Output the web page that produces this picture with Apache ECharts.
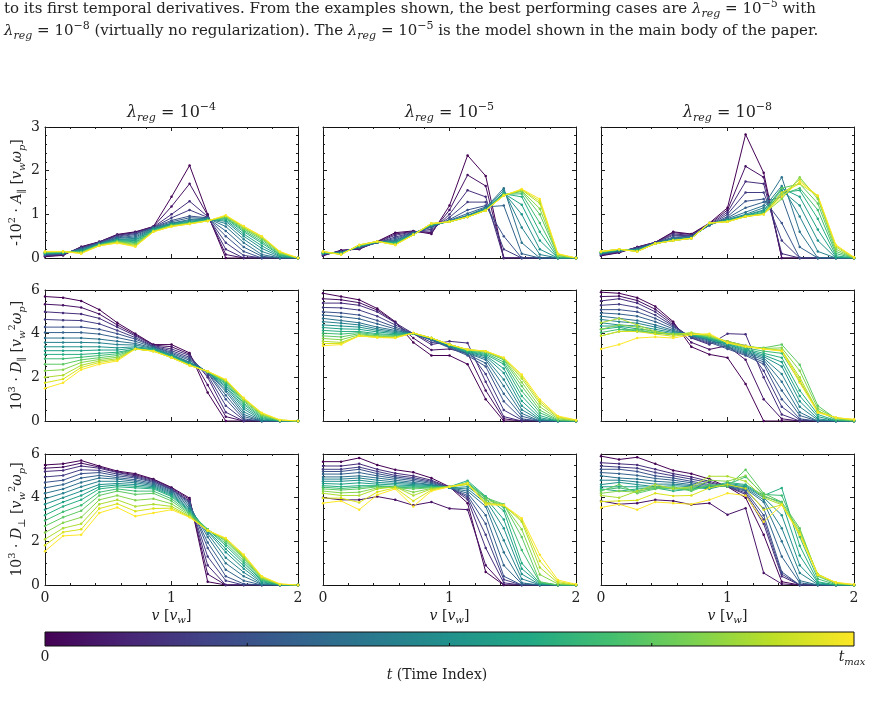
<!DOCTYPE html>
<html lang="en">
<head>
<meta charset="UTF-8" />
<title>Regularization comparison</title>
<script src="https://cdn.jsdelivr.net/npm/echarts@6/dist/echarts.min.js"></script>
<style>
* { margin: 0; padding: 0; }
html, body { width: 874px; height: 717px; background: #fff; }
</style>
</head>
<body>
<div id="main" style="width:874px;height:717px;"></div>
<script>
// speed grid in units of v_w (same for every panel)
var vGrid = [0, 0.143, 0.286, 0.429, 0.571, 0.714, 0.857, 1.0, 1.143, 1.286, 1.429, 1.571, 1.714, 1.857, 2.0];
// snapshots drawn, as fraction of t_max (one row per snapshot in each panel array)
var timeSteps = [0, 0.0625, 0.125, 0.1875, 0.25, 0.3125, 0.375, 0.4375, 0.5,
                 0.5625, 0.625, 0.6875, 0.75, 0.8125, 0.875, 0.9375, 1];
var lambdaExp = ['−4', '−5', '−8'];

// row 1: -10^2 * A_par
var aPar_4 = [
  [0.03, 0.06, 0.26, 0.37, 0.54, 0.60, 0.72, 1.40, 2.12, 1.00, 0.00, 0.00, 0.00, 0.00, 0.00],
  [0.04, 0.07, 0.25, 0.37, 0.53, 0.59, 0.72, 1.18, 1.70, 0.98, 0.08, 0.00, 0.00, 0.00, 0.00],
  [0.05, 0.08, 0.24, 0.36, 0.52, 0.58, 0.71, 1.00, 1.30, 0.95, 0.20, 0.00, 0.00, 0.00, 0.00],
  [0.06, 0.09, 0.23, 0.36, 0.50, 0.56, 0.70, 0.92, 1.10, 0.93, 0.35, 0.06, 0.00, 0.00, 0.00],
  [0.07, 0.10, 0.22, 0.35, 0.48, 0.54, 0.70, 0.86, 0.96, 0.92, 0.50, 0.15, 0.00, 0.00, 0.00],
  [0.08, 0.10, 0.21, 0.34, 0.46, 0.51, 0.69, 0.83, 0.92, 0.91, 0.62, 0.25, 0.04, 0.00, 0.00],
  [0.09, 0.11, 0.20, 0.33, 0.45, 0.48, 0.68, 0.80, 0.88, 0.91, 0.72, 0.35, 0.08, 0.00, 0.00],
  [0.10, 0.11, 0.18, 0.32, 0.43, 0.45, 0.67, 0.79, 0.86, 0.90, 0.79, 0.43, 0.15, 0.01, 0.00],
  [0.10, 0.12, 0.17, 0.32, 0.42, 0.42, 0.66, 0.78, 0.84, 0.89, 0.84, 0.50, 0.22, 0.03, 0.00],
  [0.11, 0.12, 0.16, 0.31, 0.41, 0.40, 0.65, 0.77, 0.82, 0.88, 0.87, 0.55, 0.28, 0.05, 0.00],
  [0.12, 0.13, 0.15, 0.31, 0.40, 0.37, 0.64, 0.76, 0.81, 0.87, 0.90, 0.60, 0.34, 0.07, 0.00],
  [0.12, 0.13, 0.14, 0.30, 0.39, 0.35, 0.63, 0.75, 0.80, 0.86, 0.92, 0.63, 0.38, 0.08, 0.00],
  [0.13, 0.14, 0.13, 0.30, 0.38, 0.33, 0.62, 0.74, 0.80, 0.86, 0.93, 0.66, 0.42, 0.10, 0.00],
  [0.13, 0.14, 0.12, 0.29, 0.37, 0.31, 0.61, 0.74, 0.79, 0.85, 0.95, 0.68, 0.45, 0.12, 0.00],
  [0.14, 0.15, 0.12, 0.29, 0.36, 0.29, 0.61, 0.73, 0.79, 0.85, 0.96, 0.70, 0.47, 0.13, 0.00],
  [0.15, 0.15, 0.11, 0.28, 0.35, 0.27, 0.60, 0.72, 0.78, 0.85, 0.97, 0.72, 0.49, 0.14, 0.00],
  [0.15, 0.15, 0.10, 0.28, 0.34, 0.26, 0.60, 0.72, 0.78, 0.85, 0.98, 0.73, 0.50, 0.15, 0.00]
];
var aPar_5 = [
  [0.05, 0.18, 0.20, 0.38, 0.58, 0.62, 0.55, 1.20, 2.35, 1.88, 0.00, 0.00, 0.00, 0.00, 0.00],
  [0.06, 0.17, 0.21, 0.37, 0.55, 0.61, 0.58, 1.10, 1.90, 1.65, 0.00, 0.00, 0.00, 0.00, 0.00],
  [0.07, 0.16, 0.22, 0.36, 0.52, 0.60, 0.62, 1.00, 1.55, 1.40, 0.00, 0.00, 0.00, 0.00, 0.00],
  [0.08, 0.15, 0.23, 0.35, 0.48, 0.59, 0.66, 0.93, 1.28, 1.28, 0.20, 0.00, 0.00, 0.00, 0.00],
  [0.09, 0.14, 0.24, 0.35, 0.45, 0.58, 0.70, 0.88, 1.10, 1.20, 0.50, 0.00, 0.00, 0.00, 0.00],
  [0.10, 0.13, 0.25, 0.35, 0.42, 0.57, 0.72, 0.86, 1.02, 1.17, 1.20, 0.10, 0.00, 0.00, 0.00],
  [0.10, 0.12, 0.26, 0.36, 0.40, 0.56, 0.74, 0.85, 0.98, 1.15, 1.60, 0.35, 0.00, 0.00, 0.00],
  [0.11, 0.12, 0.26, 0.36, 0.38, 0.55, 0.75, 0.84, 0.97, 1.13, 1.55, 0.70, 0.08, 0.00, 0.00],
  [0.11, 0.11, 0.27, 0.37, 0.36, 0.55, 0.76, 0.84, 0.96, 1.12, 1.50, 1.00, 0.20, 0.00, 0.00],
  [0.12, 0.11, 0.27, 0.37, 0.35, 0.54, 0.76, 0.83, 0.95, 1.11, 1.48, 1.22, 0.40, 0.00, 0.00],
  [0.12, 0.10, 0.28, 0.37, 0.34, 0.54, 0.77, 0.83, 0.95, 1.10, 1.47, 1.40, 0.60, 0.00, 0.00],
  [0.13, 0.10, 0.28, 0.37, 0.33, 0.53, 0.77, 0.83, 0.94, 1.10, 1.46, 1.47, 0.80, 0.02, 0.00],
  [0.13, 0.09, 0.29, 0.38, 0.32, 0.53, 0.78, 0.83, 0.94, 1.10, 1.45, 1.52, 1.00, 0.05, 0.00],
  [0.14, 0.09, 0.29, 0.38, 0.31, 0.53, 0.78, 0.83, 0.94, 1.09, 1.44, 1.54, 1.13, 0.06, 0.00],
  [0.14, 0.08, 0.30, 0.38, 0.31, 0.53, 0.79, 0.83, 0.94, 1.09, 1.43, 1.56, 1.25, 0.08, 0.00],
  [0.15, 0.08, 0.30, 0.38, 0.30, 0.53, 0.79, 0.83, 0.94, 1.09, 1.43, 1.57, 1.30, 0.09, 0.00],
  [0.15, 0.08, 0.30, 0.38, 0.30, 0.53, 0.79, 0.83, 0.94, 1.09, 1.43, 1.58, 1.35, 0.10, 0.00]
];
var aPar_8 = [
  [0.05, 0.12, 0.25, 0.36, 0.60, 0.55, 0.80, 1.15, 2.83, 1.95, 0.00, 0.00, 0.00, 0.00, 0.00],
  [0.06, 0.13, 0.25, 0.36, 0.58, 0.54, 0.78, 1.10, 2.10, 1.85, 0.00, 0.00, 0.00, 0.00, 0.00],
  [0.07, 0.14, 0.24, 0.35, 0.55, 0.52, 0.76, 1.05, 1.75, 1.70, 0.10, 0.00, 0.00, 0.00, 0.00],
  [0.08, 0.15, 0.23, 0.35, 0.52, 0.51, 0.75, 1.00, 1.50, 1.50, 0.40, 0.00, 0.00, 0.00, 0.00],
  [0.09, 0.15, 0.22, 0.35, 0.48, 0.50, 0.75, 0.95, 1.30, 1.35, 0.80, 0.00, 0.00, 0.00, 0.00],
  [0.10, 0.16, 0.21, 0.34, 0.46, 0.49, 0.75, 0.92, 1.15, 1.28, 1.40, 0.25, 0.00, 0.00, 0.00],
  [0.10, 0.16, 0.20, 0.34, 0.44, 0.48, 0.76, 0.90, 1.05, 1.20, 1.85, 0.60, 0.00, 0.00, 0.00],
  [0.11, 0.17, 0.19, 0.34, 0.43, 0.47, 0.77, 0.88, 1.00, 1.15, 1.65, 0.95, 0.15, 0.00, 0.00],
  [0.12, 0.18, 0.18, 0.34, 0.42, 0.46, 0.78, 0.87, 0.98, 1.10, 1.55, 1.20, 0.40, 0.00, 0.00],
  [0.12, 0.18, 0.18, 0.33, 0.41, 0.46, 0.78, 0.86, 0.97, 1.08, 1.60, 1.40, 0.65, 0.02, 0.00],
  [0.13, 0.19, 0.17, 0.33, 0.41, 0.46, 0.79, 0.85, 0.96, 1.05, 1.50, 1.55, 0.90, 0.05, 0.00],
  [0.13, 0.19, 0.16, 0.33, 0.40, 0.45, 0.80, 0.85, 0.95, 1.03, 1.45, 1.60, 1.10, 0.10, 0.00],
  [0.14, 0.20, 0.16, 0.33, 0.40, 0.45, 0.80, 0.84, 0.95, 1.02, 1.60, 1.70, 1.25, 0.15, 0.00],
  [0.14, 0.20, 0.15, 0.33, 0.40, 0.45, 0.80, 0.84, 0.95, 1.01, 1.35, 1.85, 1.35, 0.20, 0.00],
  [0.15, 0.20, 0.15, 0.33, 0.40, 0.45, 0.80, 0.83, 0.95, 1.00, 1.45, 1.80, 1.40, 0.25, 0.00],
  [0.15, 0.20, 0.15, 0.33, 0.40, 0.45, 0.80, 0.83, 0.95, 1.00, 1.50, 1.70, 1.42, 0.28, 0.01],
  [0.15, 0.20, 0.15, 0.33, 0.40, 0.45, 0.80, 0.83, 0.95, 1.00, 1.40, 1.75, 1.43, 0.30, 0.02]
];

// row 2: 10^3 * D_par
var dPar_4 = [
  [5.70, 5.65, 5.50, 5.10, 4.50, 4.00, 3.50, 3.50, 3.12, 1.30, 0.00, 0.00, 0.00, 0.00, 0.00],
  [5.35, 5.30, 5.20, 4.90, 4.40, 3.95, 3.48, 3.40, 3.06, 1.65, 0.20, 0.00, 0.00, 0.00, 0.00],
  [5.00, 4.95, 4.90, 4.70, 4.30, 3.90, 3.45, 3.30, 3.00, 2.00, 0.40, 0.00, 0.00, 0.00, 0.00],
  [4.65, 4.62, 4.60, 4.45, 4.15, 3.82, 3.42, 3.22, 2.92, 2.10, 0.70, 0.05, 0.00, 0.00, 0.00],
  [4.30, 4.30, 4.30, 4.20, 4.00, 3.75, 3.40, 3.15, 2.85, 2.20, 1.00, 0.10, 0.00, 0.00, 0.00],
  [4.05, 4.05, 4.05, 3.98, 3.82, 3.65, 3.38, 3.10, 2.78, 2.22, 1.18, 0.20, 0.00, 0.00, 0.00],
  [3.80, 3.80, 3.80, 3.75, 3.65, 3.55, 3.35, 3.05, 2.70, 2.25, 1.35, 0.30, 0.00, 0.00, 0.00],
  [3.60, 3.60, 3.60, 3.58, 3.50, 3.48, 3.32, 3.02, 2.68, 2.25, 1.45, 0.42, 0.02, 0.00, 0.00],
  [3.40, 3.40, 3.40, 3.40, 3.35, 3.40, 3.30, 3.00, 2.65, 2.25, 1.55, 0.55, 0.05, 0.00, 0.00],
  [3.22, 3.22, 3.22, 3.25, 3.25, 3.35, 3.28, 2.98, 2.62, 2.25, 1.62, 0.65, 0.10, 0.00, 0.00],
  [3.05, 3.05, 3.05, 3.10, 3.15, 3.30, 3.25, 2.95, 2.60, 2.25, 1.70, 0.75, 0.15, 0.00, 0.00],
  [2.85, 2.85, 2.92, 3.00, 3.08, 3.30, 3.23, 2.93, 2.58, 2.25, 1.75, 0.82, 0.20, 0.01, 0.00],
  [2.60, 2.60, 2.80, 2.90, 3.00, 3.30, 3.22, 2.92, 2.57, 2.25, 1.80, 0.90, 0.25, 0.02, 0.00],
  [2.30, 2.35, 2.68, 2.82, 2.92, 3.30, 3.21, 2.91, 2.56, 2.26, 1.83, 0.95, 0.28, 0.03, 0.00],
  [2.00, 2.10, 2.55, 2.75, 2.85, 3.30, 3.20, 2.90, 2.55, 2.27, 1.85, 1.00, 0.32, 0.04, 0.00],
  [1.75, 1.92, 2.45, 2.68, 2.80, 3.30, 3.20, 2.90, 2.55, 2.28, 1.88, 1.03, 0.35, 0.05, 0.00],
  [1.50, 1.75, 2.35, 2.60, 2.75, 3.30, 3.20, 2.90, 2.54, 2.28, 1.90, 1.06, 0.38, 0.05, 0.00]
];
var dPar_5 = [
  [5.85, 5.70, 5.55, 5.15, 4.55, 3.60, 3.00, 3.00, 2.60, 1.00, 0.00, 0.00, 0.00, 0.00, 0.00],
  [5.60, 5.55, 5.42, 5.08, 4.52, 3.80, 3.25, 3.30, 3.10, 1.40, 0.10, 0.00, 0.00, 0.00, 0.00],
  [5.40, 5.40, 5.30, 5.00, 4.50, 4.00, 3.50, 3.65, 3.57, 1.80, 0.20, 0.00, 0.00, 0.00, 0.00],
  [5.20, 5.18, 5.08, 4.80, 4.40, 4.00, 3.60, 3.50, 3.25, 2.15, 0.50, 0.05, 0.00, 0.00, 0.00],
  [5.00, 4.95, 4.85, 4.60, 4.30, 4.00, 3.70, 3.35, 3.00, 2.50, 0.90, 0.10, 0.00, 0.00, 0.00],
  [4.85, 4.78, 4.68, 4.45, 4.22, 4.00, 3.72, 3.38, 3.05, 2.65, 1.25, 0.22, 0.00, 0.00, 0.00],
  [4.70, 4.60, 4.50, 4.30, 4.15, 4.00, 3.75, 3.40, 3.10, 2.80, 1.60, 0.35, 0.00, 0.00, 0.00],
  [4.55, 4.48, 4.40, 4.22, 4.10, 4.00, 3.76, 3.42, 3.12, 2.88, 1.90, 0.52, 0.04, 0.00, 0.00],
  [4.40, 4.35, 4.30, 4.15, 4.05, 4.00, 3.78, 3.45, 3.15, 2.95, 2.20, 0.70, 0.08, 0.00, 0.00],
  [4.28, 4.22, 4.20, 4.08, 4.00, 4.00, 3.79, 3.46, 3.18, 3.00, 2.40, 0.92, 0.15, 0.00, 0.00],
  [4.15, 4.10, 4.10, 4.00, 3.95, 4.00, 3.80, 3.48, 3.20, 3.05, 2.60, 1.15, 0.25, 0.00, 0.00],
  [4.02, 3.98, 4.05, 3.95, 3.92, 4.01, 3.80, 3.49, 3.22, 3.10, 2.70, 1.38, 0.38, 0.02, 0.00],
  [3.90, 3.85, 4.00, 3.90, 3.88, 4.02, 3.80, 3.50, 3.25, 3.15, 2.80, 1.60, 0.50, 0.05, 0.00],
  [3.78, 3.72, 3.95, 3.88, 3.85, 4.02, 3.80, 3.50, 3.26, 3.18, 2.84, 1.78, 0.65, 0.10, 0.01],
  [3.65, 3.60, 3.90, 3.85, 3.83, 4.03, 3.80, 3.50, 3.27, 3.20, 2.88, 1.95, 0.80, 0.15, 0.02],
  [3.55, 3.55, 3.90, 3.83, 3.82, 4.03, 3.80, 3.50, 3.27, 3.20, 2.89, 2.05, 0.90, 0.19, 0.04],
  [3.45, 3.50, 3.90, 3.82, 3.80, 4.03, 3.80, 3.50, 3.27, 3.20, 2.90, 2.13, 0.99, 0.23, 0.05]
];
var dPar_8 = [
  [5.90, 5.85, 5.65, 5.25, 4.55, 3.40, 3.05, 2.90, 1.70, 0.00, 0.00, 0.00, 0.00, 0.00, 0.00],
  [5.70, 5.72, 5.52, 5.12, 4.48, 3.60, 3.28, 3.45, 2.80, 1.00, 0.10, 0.00, 0.00, 0.00, 0.00],
  [5.50, 5.60, 5.40, 5.00, 4.40, 3.80, 3.50, 4.00, 3.97, 2.00, 0.30, 0.00, 0.00, 0.00, 0.00],
  [5.30, 5.35, 5.20, 4.85, 4.35, 3.82, 3.55, 3.65, 3.45, 2.30, 0.65, 0.05, 0.00, 0.00, 0.00],
  [5.10, 5.10, 5.00, 4.70, 4.30, 3.85, 3.60, 3.30, 3.00, 2.60, 1.00, 0.10, 0.00, 0.00, 0.00],
  [4.95, 4.90, 4.80, 4.55, 4.22, 3.88, 3.65, 3.35, 3.05, 2.70, 1.40, 0.25, 0.00, 0.00, 0.00],
  [4.80, 4.70, 4.60, 4.40, 4.15, 3.90, 3.70, 3.40, 3.10, 2.80, 1.80, 0.40, 0.00, 0.00, 0.00],
  [4.65, 4.55, 4.48, 4.30, 4.10, 3.92, 3.72, 3.45, 3.15, 2.88, 2.15, 0.65, 0.05, 0.00, 0.00],
  [4.50, 4.40, 4.35, 4.20, 4.05, 3.95, 3.75, 3.50, 3.20, 2.95, 2.50, 0.90, 0.10, 0.00, 0.00],
  [4.35, 4.35, 4.22, 4.12, 4.00, 3.95, 3.78, 3.52, 3.25, 3.02, 2.70, 1.15, 0.20, 0.01, 0.00],
  [4.20, 4.30, 4.10, 4.05, 3.95, 3.95, 3.80, 3.55, 3.30, 3.10, 2.90, 1.40, 0.30, 0.02, 0.00],
  [4.05, 4.20, 4.15, 4.02, 3.98, 3.98, 3.82, 3.58, 3.35, 3.20, 3.10, 1.80, 0.48, 0.05, 0.00],
  [3.90, 4.10, 4.20, 4.00, 4.00, 4.00, 3.85, 3.60, 3.40, 3.35, 3.50, 2.58, 0.70, 0.10, 0.00],
  [4.20, 4.40, 4.30, 4.05, 3.98, 4.02, 3.88, 3.62, 3.42, 3.32, 3.35, 2.30, 0.58, 0.12, 0.02],
  [4.50, 4.70, 4.40, 4.10, 3.95, 4.05, 3.90, 3.65, 3.45, 3.30, 3.25, 2.00, 0.45, 0.15, 0.05],
  [3.90, 4.10, 4.10, 3.98, 3.88, 4.00, 3.95, 3.60, 3.42, 3.30, 3.22, 1.88, 0.42, 0.15, 0.06],
  [3.30, 3.50, 3.80, 3.85, 3.80, 3.95, 4.00, 3.57, 3.40, 3.30, 3.20, 1.75, 0.38, 0.15, 0.08]
];

// row 3: 10^3 * D_perp
var dPerp_4 = [
  [5.50, 5.55, 5.70, 5.45, 5.22, 5.10, 4.85, 4.47, 3.98, 0.15, 0.00, 0.00, 0.00, 0.00, 0.00],
  [5.35, 5.40, 5.58, 5.40, 5.18, 5.05, 4.82, 4.44, 3.92, 0.50, 0.00, 0.00, 0.00, 0.00, 0.00],
  [5.20, 5.25, 5.45, 5.35, 5.15, 5.00, 4.78, 4.40, 3.85, 0.90, 0.00, 0.00, 0.00, 0.00, 0.00],
  [4.95, 5.02, 5.28, 5.25, 5.08, 4.95, 4.74, 4.38, 3.80, 1.30, 0.20, 0.00, 0.00, 0.00, 0.00],
  [4.70, 4.80, 5.10, 5.15, 5.00, 4.90, 4.70, 4.35, 3.75, 1.70, 0.40, 0.05, 0.00, 0.00, 0.00],
  [4.45, 4.60, 4.90, 5.02, 4.92, 4.82, 4.65, 4.30, 3.68, 1.95, 0.70, 0.20, 0.00, 0.00, 0.00],
  [4.20, 4.40, 4.70, 4.90, 4.85, 4.75, 4.60, 4.25, 3.60, 2.20, 1.00, 0.40, 0.02, 0.00, 0.00],
  [3.95, 4.20, 4.50, 4.75, 4.75, 4.68, 4.55, 4.20, 3.52, 2.35, 1.25, 0.58, 0.05, 0.00, 0.00],
  [3.70, 4.00, 4.30, 4.60, 4.65, 4.60, 4.50, 4.15, 3.45, 2.45, 1.50, 0.75, 0.10, 0.00, 0.00],
  [3.45, 3.80, 4.10, 4.50, 4.58, 4.52, 4.45, 4.10, 3.40, 2.50, 1.65, 0.88, 0.15, 0.00, 0.00],
  [3.20, 3.60, 3.90, 4.40, 4.50, 4.45, 4.40, 4.05, 3.35, 2.55, 1.80, 1.00, 0.20, 0.00, 0.00],
  [2.95, 3.35, 3.65, 4.25, 4.40, 4.30, 4.30, 3.95, 3.30, 2.55, 1.90, 1.10, 0.24, 0.01, 0.00],
  [2.70, 3.10, 3.40, 4.10, 4.30, 4.15, 4.20, 3.85, 3.25, 2.55, 2.00, 1.20, 0.28, 0.02, 0.00],
  [2.40, 2.85, 3.10, 3.90, 4.10, 3.88, 3.95, 3.72, 3.20, 2.52, 2.05, 1.25, 0.32, 0.03, 0.00],
  [2.10, 2.60, 2.80, 3.70, 3.90, 3.60, 3.70, 3.60, 3.15, 2.50, 2.10, 1.30, 0.35, 0.03, 0.00],
  [1.82, 2.42, 2.55, 3.50, 3.72, 3.38, 3.50, 3.52, 3.12, 2.50, 2.12, 1.35, 0.38, 0.04, 0.00],
  [1.55, 2.25, 2.30, 3.30, 3.55, 3.15, 3.30, 3.45, 3.10, 2.50, 2.15, 1.40, 0.40, 0.05, 0.00]
];
var dPerp_5 = [
  [5.65, 5.65, 5.82, 5.50, 5.28, 5.16, 4.90, 4.50, 3.75, 0.60, 0.00, 0.00, 0.00, 0.00, 0.00],
  [4.00, 3.90, 3.90, 4.05, 3.90, 3.65, 3.80, 3.50, 3.45, 0.90, 0.00, 0.00, 0.00, 0.00, 0.00],
  [5.45, 5.45, 5.55, 5.30, 5.12, 5.00, 4.80, 4.48, 3.92, 1.70, 0.10, 0.00, 0.00, 0.00, 0.00],
  [5.30, 5.30, 5.40, 5.20, 5.02, 4.92, 4.75, 4.46, 4.02, 2.30, 0.25, 0.00, 0.00, 0.00, 0.00],
  [5.20, 5.20, 5.30, 5.10, 4.95, 4.85, 4.70, 4.45, 4.10, 2.80, 0.40, 0.00, 0.00, 0.00, 0.00],
  [5.08, 5.08, 5.15, 5.00, 4.88, 4.78, 4.65, 4.45, 4.20, 3.20, 0.90, 0.05, 0.00, 0.00, 0.00],
  [4.95, 4.95, 5.00, 4.90, 4.80, 4.70, 4.60, 4.45, 4.30, 3.60, 1.50, 0.10, 0.00, 0.00, 0.00],
  [4.85, 4.85, 4.90, 4.80, 4.72, 4.65, 4.58, 4.45, 4.40, 3.75, 2.05, 0.28, 0.01, 0.00, 0.00],
  [4.75, 4.75, 4.80, 4.70, 4.65, 4.60, 4.55, 4.45, 4.50, 3.90, 2.60, 0.50, 0.02, 0.00, 0.00],
  [4.65, 4.62, 4.68, 4.62, 4.58, 4.55, 4.52, 4.48, 4.65, 3.98, 3.00, 0.75, 0.05, 0.00, 0.00],
  [4.55, 4.50, 4.55, 4.55, 4.50, 4.50, 4.50, 4.50, 4.78, 4.06, 3.40, 1.00, 0.08, 0.00, 0.00],
  [4.48, 4.42, 4.48, 4.52, 4.48, 4.45, 4.48, 4.50, 4.70, 4.03, 3.55, 1.60, 0.12, 0.00, 0.00],
  [4.40, 4.35, 4.40, 4.50, 4.45, 4.40, 4.45, 4.50, 4.65, 4.00, 3.70, 2.20, 0.15, 0.00, 0.00],
  [4.30, 4.22, 4.25, 4.45, 4.48, 4.25, 4.42, 4.50, 4.62, 3.90, 3.68, 2.55, 0.48, 0.05, 0.00],
  [4.20, 4.10, 4.10, 4.40, 4.50, 4.10, 4.40, 4.50, 4.60, 3.80, 3.65, 2.90, 0.80, 0.10, 0.00],
  [3.98, 3.98, 3.78, 4.26, 4.45, 3.85, 4.35, 4.50, 4.63, 3.74, 3.65, 2.98, 1.10, 0.16, 0.01],
  [3.75, 3.85, 3.45, 4.13, 4.40, 3.60, 4.30, 4.50, 4.67, 3.68, 3.65, 3.06, 1.38, 0.23, 0.03]
];
var dPerp_8 = [
  [5.90, 5.75, 5.85, 5.55, 5.25, 5.10, 4.85, 4.50, 4.00, 2.30, 0.15, 0.00, 0.00, 0.00, 0.00],
  [3.85, 3.70, 3.75, 3.90, 3.85, 3.68, 3.75, 3.22, 3.52, 0.55, 0.05, 0.00, 0.00, 0.00, 0.00],
  [5.60, 5.55, 5.50, 5.30, 5.10, 4.95, 4.75, 4.50, 4.15, 2.80, 0.40, 0.00, 0.00, 0.00, 0.00],
  [5.45, 5.40, 5.35, 5.15, 5.00, 4.85, 4.68, 4.50, 4.22, 3.00, 0.50, 0.00, 0.00, 0.00, 0.00],
  [5.30, 5.30, 5.20, 5.00, 4.90, 4.75, 4.60, 4.50, 4.30, 3.20, 0.60, 0.00, 0.00, 0.00, 0.00],
  [5.15, 5.10, 5.02, 4.88, 4.80, 4.68, 4.55, 4.52, 4.35, 3.50, 1.30, 0.10, 0.00, 0.00, 0.00],
  [5.00, 4.90, 4.85, 4.75, 4.70, 4.60, 4.50, 4.55, 4.40, 3.80, 2.00, 0.20, 0.00, 0.00, 0.00],
  [4.80, 4.80, 4.72, 4.62, 4.62, 4.55, 4.45, 4.58, 4.45, 3.90, 2.60, 0.55, 0.02, 0.00, 0.00],
  [4.60, 4.70, 4.60, 4.50, 4.55, 4.50, 4.40, 4.60, 4.50, 4.00, 3.20, 0.90, 0.05, 0.00, 0.00],
  [4.50, 4.50, 4.50, 4.48, 4.42, 4.45, 4.45, 4.65, 4.55, 4.05, 3.80, 1.35, 0.10, 0.00, 0.00],
  [4.40, 4.30, 4.40, 4.45, 4.30, 4.40, 4.50, 4.70, 4.60, 4.10, 4.44, 1.80, 0.15, 0.00, 0.00],
  [4.35, 4.45, 4.30, 4.42, 4.40, 4.35, 4.55, 4.60, 4.95, 4.15, 4.10, 2.20, 0.28, 0.02, 0.00],
  [4.30, 4.60, 4.20, 4.40, 4.50, 4.30, 4.60, 4.50, 5.28, 4.20, 3.80, 2.60, 0.40, 0.05, 0.00],
  [4.20, 4.30, 4.25, 4.50, 4.45, 4.40, 4.80, 4.75, 5.00, 4.10, 3.72, 2.50, 0.45, 0.08, 0.00],
  [4.10, 4.00, 4.30, 4.60, 4.40, 4.50, 4.98, 4.98, 4.75, 4.00, 3.67, 2.40, 0.50, 0.10, 0.00],
  [3.82, 3.85, 3.88, 4.20, 4.08, 4.10, 4.45, 4.60, 4.42, 3.45, 3.67, 2.35, 0.48, 0.11, 0.01],
  [3.55, 3.70, 3.45, 3.80, 3.75, 3.70, 3.90, 4.20, 4.10, 2.90, 3.67, 2.30, 0.46, 0.12, 0.03]
];

var panels = [aPar_4, aPar_5, aPar_8, dPar_4, dPar_5, dPar_8, dPerp_4, dPerp_5, dPerp_8];

// viridis
var viridisStops = ['#440154', '#482475', '#414487', '#355f8d', '#2a788e', '#21918c',
                    '#22a884', '#44bf70', '#7ad151', '#bddf26', '#fde725'];
// viridis sampled at each entry of timeSteps
var lineColors = ['#440154', '#471164', '#472d7b', '#433d84', '#3b528b', '#33628d', '#2c728e', '#26828e',
                  '#21918c', '#1fa187', '#28ae80', '#3fbc73', '#5ec962', '#84d44b', '#addc30', '#d8e219', '#fde725'];

var SERIF = '"DejaVu Serif", "Liberation Serif", serif';
var INK = '#222';

// layout (px)
var colLeft = [45, 323, 601];
var colW = 253;
var rowTop = [127, 290, 454];
var rowH = 131;
var yMax = [3, 6, 6];
var yStep = [1, 2, 2];
var yMinorSplit = [5, 4, 4];

function mathRich(size) {
  var s = Math.round(size * 0.7);
  function st(extra) {
    var o = { fontFamily: SERIF, fontSize: s, fontStyle: 'normal', color: INK, fill: INK };
    for (var k in extra) o[k] = extra[k];
    return o;
  }
  return {
    it: { fontFamily: SERIF, fontSize: size, fontStyle: 'italic', color: INK, fill: INK },
    rm: { fontFamily: SERIF, fontSize: size, fontStyle: 'normal', color: INK, fill: INK },
    sub: st({ fontStyle: 'italic', verticalAlign: 'bottom', lineHeight: s + 2 }),
    subr: st({ verticalAlign: 'bottom', lineHeight: s + 2 }),
    sup: st({ verticalAlign: 'top', lineHeight: s + 1 })
  };
}

var yNames = [
  '-10{sup|2} · {it|A}{subr|∥} [{it|v}{sub|w}{it|ω}{sub|p}]',
  '10{sup|3} · {it|D}{subr|∥} [{it|v}{sub|w}{sup|2}{it|ω}{sub|p}]',
  '10{sup|3} · {it|D}{subr|⊥} [{it|v}{sub|w}{sup|2}{it|ω}{sub|p}]'
];

var grids = [], xAxes = [], yAxes = [], series = [];

function tickStyle(n) {
  return {
    axisLine: { show: true, onZero: false, lineStyle: { color: '#111', width: 1 } },
    axisTick: { show: true, inside: true, length: 4, lineStyle: { color: INK, width: 1 } },
    minorTick: { show: true, splitNumber: n, length: 2, lineStyle: { color: INK, width: 1 } },
    splitLine: { show: false },
    minorSplitLine: { show: false }
  };
}

panels.forEach(function (lines, p) {
  var row = Math.floor(p / 3), col = p % 3;
  grids.push({
    left: colLeft[col], top: rowTop[row], width: colW, height: rowH,
    show: false, containLabel: false, outerBoundsMode: 'none'
  });
  ['bottom', 'top'].forEach(function (pos) {
    var ax = tickStyle(5);
    ax.gridIndex = p; ax.type = 'value'; ax.position = pos;
    ax.min = 0; ax.max = 2; ax.interval = 1;
    ax.axisLabel = {
      show: pos === 'bottom' && row === 2, margin: 6,
      fontFamily: SERIF, fontSize: 14, color: INK
    };
    if (pos === 'bottom' && row === 2) {
      ax.name = '{it|v} [{it|v}{sub|w}]';
      ax.nameLocation = 'middle';
      ax.nameGap = 16;
      ax.nameTextStyle = { fontFamily: SERIF, fontSize: 14, color: INK, lineHeight: 20, rich: mathRich(14) };
    }
    xAxes.push(ax);
  });
  ['left', 'right'].forEach(function (pos) {
    var ax = tickStyle(yMinorSplit[row]);
    ax.gridIndex = p; ax.type = 'value'; ax.position = pos;
    ax.min = 0; ax.max = yMax[row]; ax.interval = yStep[row];
    ax.axisLabel = {
      show: pos === 'left' && col === 0, margin: 5,
      fontFamily: SERIF, fontSize: 14, color: INK
    };
    if (pos === 'left' && col === 0) {
      ax.name = yNames[row];
      ax.nameLocation = 'middle';
      ax.nameRotate = 90;
      ax.nameGap = 13;
      ax.nameTextStyle = { fontFamily: SERIF, fontSize: 14, color: INK, lineHeight: 20, rich: mathRich(14) };
    }
    yAxes.push(ax);
  });
  lines.forEach(function (vals, i) {
    series.push({
      type: 'line',
      xAxisIndex: 2 * p,
      yAxisIndex: 2 * p,
      data: vGrid.map(function (v, k) { return [v, vals[k]]; }),
      symbol: 'circle',
      symbolSize: 2.5,
      showSymbol: true,
      lineStyle: { width: 1, color: lineColors[i] },
      itemStyle: { color: lineColors[i] },
      emphasis: { disabled: true },
      silent: true,
      animation: false
    });
  });
});

function textEl(x, y, text, size, align) {
  return {
    type: 'text', x: x, y: y, silent: true,
    style: {
      text: text, fill: INK, fontFamily: SERIF, fontSize: size, lineHeight: size + 6,
      align: align, textAlign: align, verticalAlign: 'middle', textVerticalAlign: 'middle',
      rich: mathRich(size)
    }
  };
}

var graphics = [];
// paragraph lines above the figure
graphics.push(textEl(4, 9, 'to its first temporal derivatives. From the examples shown, the best performing cases are {it|λ}{sub|reg} = 10{sup|−5} with', 15, 'left'));
graphics.push(textEl(4, 31, '{it|λ}{sub|reg} = 10{sup|−8} (virtually no regularization). The {it|λ}{sub|reg} = 10{sup|−5} is the model shown in the main body of the paper.', 15, 'left'));
// column titles
lambdaExp.forEach(function (e, c) {
  graphics.push(textEl(colLeft[c] + colW / 2, 113, '{it|λ}{sub|reg} = 10{sup|' + e + '}', 16, 'center'));
});
// colour bar
var cbX = 45, cbY = 632, cbW = 809, cbH = 14;
graphics.push({
  type: 'rect', silent: true,
  shape: { x: cbX, y: cbY, width: cbW, height: cbH },
  style: {
    fill: new echarts.graphic.LinearGradient(0, 0, 1, 0, viridisStops.map(function (c, i) {
      return { offset: i / (viridisStops.length - 1), color: c };
    })),
    stroke: '#111', lineWidth: 1
  }
});
[0.25, 0.5, 0.75].forEach(function (f) {
  graphics.push({
    type: 'line', silent: true,
    shape: { x1: cbX + cbW * f, y1: cbY + cbH, x2: cbX + cbW * f, y2: cbY + cbH - 3 },
    style: { stroke: '#111', lineWidth: 1 }
  });
});
graphics.push(textEl(cbX, 657, String(timeSteps[0]), 14, 'center'));
graphics.push(textEl(cbX + cbW - 2, 657, '{it|t}{sub|max}', 14, 'center'));
graphics.push(textEl(437, 675, '{it|t} (Time Index)', 14, 'center'));

var myChart = echarts.init(document.getElementById('main'), null, { renderer: 'canvas' });
myChart.setOption({
  backgroundColor: '#fff',
  animation: false,
  grid: grids,
  xAxis: xAxes,
  yAxis: yAxes,
  series: series,
  graphic: graphics
});
</script>
</body>
</html>
